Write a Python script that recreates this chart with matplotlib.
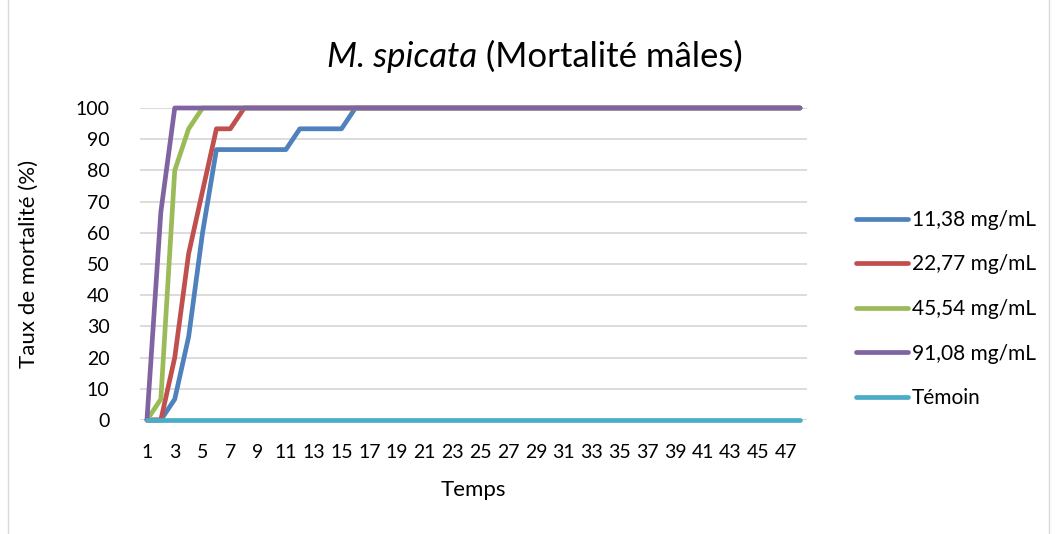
import matplotlib
matplotlib.use("Agg")
import matplotlib.pyplot as plt
from matplotlib.patches import Rectangle

plt.rcParams['font.family'] = ['Lato', 'DejaVu Sans']

# time steps 1..48
temps = list(range(1, 49))

c1 = [0, 0, 6.67, 26.67, 60, 86.67, 86.67, 86.67, 86.67, 86.67, 86.67,
      93.33, 93.33, 93.33, 93.33] + [100] * 33
c2 = [0, 0, 20, 53.33, 73.33, 93.33, 93.33] + [100] * 41
c3 = [0, 6.67, 80, 93.33] + [100] * 44
c4 = [0, 66.67] + [100] * 46
temoin = [0] * 48

labels = ['11,38 mg/mL', '22,77 mg/mL', '45,54 mg/mL', '91,08 mg/mL', 'Témoin']
colors = ['#4F81BD', '#C0504D', '#9BBB59', '#8064A2', '#4BACC6']
series = [c1, c2, c3, c4, temoin]

W, H = 1056, 534
fig = plt.figure(figsize=(W / 100, H / 100), dpi=100)
ax = fig.add_axes([140 / W, 1 - 420 / H, (807 - 140) / W, (420 - 108) / H])

for vals, lab, col in zip(series, labels, colors):
    ax.plot(temps, vals, color=col, lw=3.4, label=lab, solid_capstyle='round',
            solid_joinstyle='round', zorder=3, clip_on=False)

ax.set_xlim(0.5, 48.5)
ax.set_ylim(0, 100)
ax.set_yticks(range(0, 101, 10))
ax.set_xticks(temps[::2])
ax.tick_params(length=0, labelsize=14, colors='black')
ax.tick_params(axis='y', pad=22)
ax.tick_params(axis='x', pad=17)
ax.grid(axis='y', color='#d9d9d9', lw=1.3, zorder=0)
for s in ax.spines.values():
    s.set_visible(False)

ax.set_xlabel('Temps', fontsize=16, labelpad=14)
ax.set_ylabel('Taux de mortalité (%)', fontsize=16, labelpad=26)

# title: italic species name followed by regular text
fig.canvas.draw()
r = fig.canvas.get_renderer()
t1 = fig.text(0, 1 - 57 / H, 'M. spicata', fontsize=25, style='italic', va='center')
t2 = fig.text(0, 1 - 57 / H, ' (Mortalité mâles)', fontsize=25, va='center')
w1 = t1.get_window_extent(r).width
w2 = t2.get_window_extent(r).width
x0 = 535 - (w1 + w2) / 2
t1.set_x(x0 / W)
t2.set_x((x0 + w1) / W)

ax.legend(loc='center left', bbox_to_anchor=(837 / W, 1 - 309 / H),
          bbox_transform=fig.transFigure, frameon=False, fontsize=15,
          handlelength=2.5, handletextpad=0.2, labelspacing=1.18)

fig.add_artist(Rectangle((8 / W, -0.01), (1049 - 8) / W, 1.02,
                         transform=fig.transFigure, fill=False,
                         edgecolor='#d9d9d9', lw=1))

fig.savefig('out.png', dpi=100)
